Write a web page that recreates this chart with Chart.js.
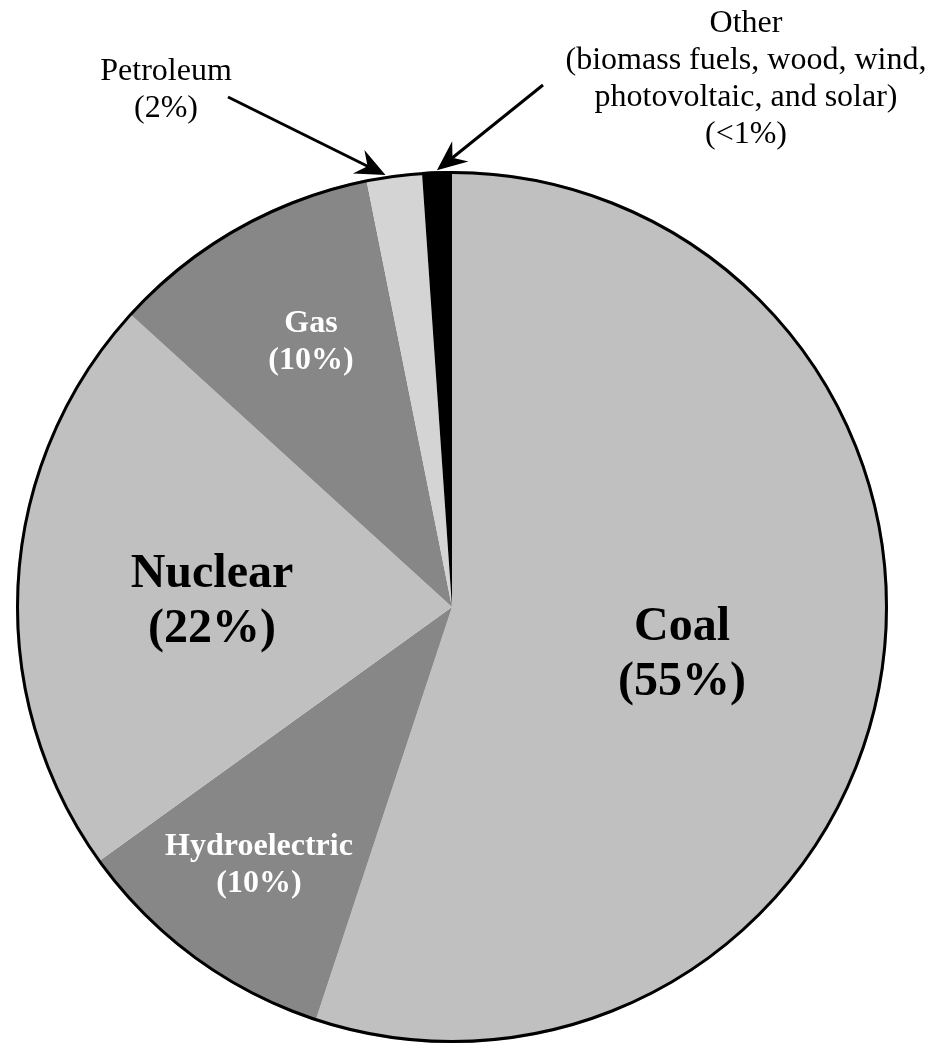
<!DOCTYPE html>
<html>
<head>
<meta charset="utf-8">
<script src="https://cdn.jsdelivr.net/npm/chart.js@4"></script>
<style>
  html, body { margin: 0; padding: 0; background: #fff; }
  #wrap { width: 934px; height: 1044px; }
</style>
</head>
<body>
<div id="wrap"><canvas id="energie"></canvas></div>
<script>
// values (slice angles), clockwise from the top
const sources = ["Coal", "Hydroelectric", "Nuclear", "Gas", "Petroleum", "Other"];
const shares = [55.1, 10.0, 21.7, 10.1, 2.05, 1.1];
const labelLines = [
    ["Coal", "(55%)"],
    ["Hydroelectric", "(10%)"],
    ["Nuclear", "(22%)"],
    ["Gas", "(10%)"],
    ["Petroleum", "(2%)"],
    ["Other", "(biomass fuels, wood, wind,", "photovoltaic, and solar)", "(<1%)"],
];
const sliceColors = ["#c0c0c0", "#878787", "#c0c0c0", "#878787", "#d4d4d4", "#000000"];

// where the texts sit (first baseline), and arrows for the two thin slices
const labelLayout = [
    { x: 682, y: 640, size: 48, bold: true, color: "#000", lh: 55 },
    { x: 259, y: 855, size: 32, bold: true, color: "#fff", lh: 37 },
    { x: 212, y: 587, size: 48, bold: true, color: "#000", lh: 55 },
    { x: 311, y: 332, size: 32, bold: true, color: "#fff", lh: 37 },
    { x: 166, y: 80, size: 32, bold: false, color: "#000", lh: 37, arrowFrom: [228, 97], at: 0.35 },
    { x: 746, y: 32, size: 32, bold: false, color: "#000", lh: 37, arrowFrom: [543, 85], at: 0.5 },
];

const beschriftung = {
    id: "beschriftung",
    afterDatasetsDraw(chart) {
        const ctx = chart.ctx;
        const arcs = chart.getDatasetMeta(0).data;
        const cx = arcs[0].x, cy = arcs[0].y, r = arcs[0].outerRadius;

        // outline round the pie only
        ctx.save();
        ctx.beginPath();
        ctx.arc(cx, cy, r - 1.5, 0, Math.PI * 2);
        ctx.lineWidth = 3;
        ctx.strokeStyle = "#000";
        ctx.stroke();

        ctx.textAlign = "center";
        ctx.textBaseline = "alphabetic";
        labelLayout.forEach((l, i) => {
            ctx.font = (l.bold ? "bold " : "") + l.size + "px 'Liberation Serif', 'Times New Roman', serif";
            ctx.fillStyle = l.color;
            labelLines[i].forEach((t, k) => ctx.fillText(t, l.x, l.y + k * l.lh));

            if (l.arrowFrom) {
                const a = arcs[i];
                const ang = a.startAngle + (a.endAngle - a.startAngle) * l.at;
                const tx = cx + Math.cos(ang) * (a.outerRadius + 1);
                const ty = cy + Math.sin(ang) * (a.outerRadius + 1);
                const [fx, fy] = l.arrowFrom;
                const len = Math.hypot(tx - fx, ty - fy);
                const ux = (tx - fx) / len, uy = (ty - fy) / len;
                const px = -uy, py = ux;
                ctx.beginPath();
                ctx.moveTo(fx, fy);
                ctx.lineTo(tx - ux * 16, ty - uy * 16);
                ctx.lineWidth = 3;
                ctx.strokeStyle = "#000";
                ctx.stroke();
                ctx.beginPath();
                ctx.moveTo(tx, ty);
                ctx.lineTo(tx - ux * 30 + px * 13, ty - uy * 30 + py * 13);
                ctx.lineTo(tx - ux * 20, ty - uy * 20);
                ctx.lineTo(tx - ux * 30 - px * 13, ty - uy * 30 - py * 13);
                ctx.closePath();
                ctx.fillStyle = "#000";
                ctx.fill();
            }
        });
        ctx.restore();
    },
};

new Chart(document.getElementById("energie"), {
    type: "pie",
    data: {
        labels: sources,
        datasets: [
            {
                data: shares,
                backgroundColor: sliceColors,
                borderWidth: 0,
            },
        ],
    },
    options: {
        responsive: true,
        maintainAspectRatio: false,
        animation: false,
        events: [],
        layout: { padding: { top: 171, bottom: 1, left: 16, right: 46 } },
        plugins: {
            legend: { display: false },
            tooltip: { enabled: false },
        },
    },
    plugins: [beschriftung],
});
</script>
</body>
</html>
